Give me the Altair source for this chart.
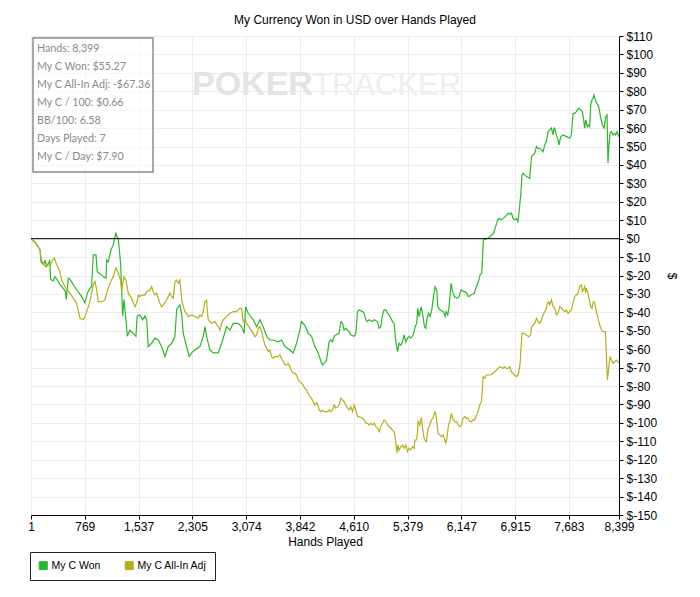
import altair as alt
import pandas as pd

TITLE = "My Currency Won in USD over Hands Played"
SERIES = ["My C Won", "My C All-In Adj"]
COLORS = ["#2db52d", "#b5ae1f"]
X_TICKS = [1, 769, 1537, 2305, 3074, 3842, 4610, 5379, 6147, 6915, 7683, 8399]
Y_TICKS = list(range(-150, 111, 10))
STATS = ["Hands: 8,399", "My C Won: $55.27", "My C All-In Adj: -$67.36",
         "My C / 100: $0.66", "BB/100: 6.58", "Days Played: 7", "My C / Day: $7.90"]

won_hands = [
    1, 29, 72, 129, 144, 177, 205, 225, 268, 282,
    315, 344, 386, 415, 462, 491, 505, 533, 558, 605,
    658, 725, 772, 805, 843, 867, 890, 929, 947, 986,
    1033, 1072, 1082, 1104, 1143, 1176, 1214, 1229, 1247, 1281,
    1310, 1329, 1357, 1376, 1414, 1461, 1500, 1518, 1557, 1595,
    1628, 1653, 1675, 1724, 1771, 1818, 1867, 1914, 1961, 2009,
    2057, 2081, 2104, 2128, 2152, 2175, 2224, 2261, 2295, 2342,
    2413, 2461, 2485, 2509, 2556, 2603, 2675, 2723, 2795, 2842,
    2889, 2960, 3009, 3046, 3066, 3103, 3175, 3223, 3270, 3317,
    3366, 3413, 3460, 3531, 3580, 3627, 3698, 3745, 3794, 3841,
    3865, 3912, 3960, 4008, 4055, 4102, 4151, 4169, 4222, 4259,
    4283, 4308, 4331, 4355, 4402, 4426, 4450, 4473, 4497, 4545,
    4569, 4616, 4640, 4665, 4687, 4736, 4759, 4783, 4807, 4830,
    4879, 4902, 4950, 4973, 4997, 5021, 5044, 5069, 5093, 5116,
    5164, 5187, 5211, 5236, 5258, 5283, 5307, 5330, 5354, 5378,
    5401, 5425, 5449, 5473, 5487, 5511, 5525, 5544, 5573, 5593,
    5621, 5640, 5654, 5678, 5701, 5725, 5749, 5772, 5796, 5811,
    5844, 5892, 5915, 5929, 5954, 5972, 6001, 6021, 6049, 6082,
    6115, 6143, 6178, 6201, 6225, 6249, 6286, 6335, 6353, 6392,
    6415, 6439, 6463, 6486, 6525, 6557, 6582, 6606, 6629, 6653,
    6667, 6686, 6715, 6749, 6772, 6796, 6820, 6843, 6863, 6886,
    6910, 6934, 6957, 6981, 6996, 7014, 7029, 7053, 7077, 7124,
    7149, 7172, 7196, 7220, 7243, 7267, 7291, 7315, 7338, 7362,
    7386, 7410, 7434, 7457, 7471, 7481, 7505, 7528, 7542, 7567,
    7600, 7648, 7695, 7719, 7742, 7766, 7790, 7823, 7852, 7876,
    7890, 7909, 7923, 7948, 7966, 7981, 7995, 8013, 8028, 8042,
    8062, 8081, 8099, 8114, 8138, 8162, 8186, 8210, 8228, 8242,
    8252, 8271, 8290, 8314, 8338, 8352, 8371, 8399,
]
won_usd = [
    0, -1, -2.5, -6, -12.5, -14, -12, -15, -12, -22,
    -23, -20.6, -23, -25, -27, -28.5, -33, -21.5, -22, -25,
    -28, -31.5, -35, -29.6, -27, -26, -8.8, -8.8, -18, -19,
    -20.6, -21.5, -11.6, -12.5, -6.1, -3.4, 3.3, 1, 0, -13.4,
    -42, -33, -44, -53, -49.6, -51.4, -53, -42, -41.4, -44,
    -42, -44, -58.6, -56.8, -54, -55, -58.6, -64, -58.6, -56.8,
    -53, -38.7, -37, -36, -40.5, -51.4, -58.6, -64, -62, -60.4,
    -58.6, -53, -47.8, -53, -60.4, -62, -62, -56.8, -47.8, -49.6,
    -46, -46, -47.8, -51.4, -37, -40.5, -44, -47.8, -44, -47.8,
    -53, -55, -55, -56, -55, -58.6, -60.4, -62, -56.8, -49.6,
    -45, -47, -51.4, -53, -58.6, -62, -67.6, -68.6, -66, -56,
    -55, -56, -53, -52.3, -51.4, -45, -46, -49.6, -48.7, -50.5,
    -52.3, -53, -51.5, -39.6, -38.7, -39.6, -40.5, -44, -45, -44,
    -45, -44, -45, -48.7, -47.8, -41.4, -38.7, -38.7, -40.5, -41.4,
    -45, -46, -56, -61.3, -56.8, -57.7, -56, -52.3, -56, -54,
    -53, -54, -53, -50.5, -47.8, -46, -37.8, -42.3, -37, -40.5,
    -47.8, -48.7, -44, -40.5, -42.3, -38.7, -31.5, -26, -27.8, -37,
    -38.7, -39.6, -42.3, -39.6, -41.4, -37, -24.2, -28.8, -31.5, -32.4,
    -31.5, -27.8, -28.8, -28.8, -29.6, -31.5, -30.6, -29.6, -26.9, -23.3,
    -19.7, -18.8, -0.7, -0.3, 0.2, 1.1, 2, 2.9, 5.6, 8.4,
    10.2, 11, 10.2, 11, 12, 12.9, 13.8, 13.4, 13.8, 11,
    10.2, 11, 9.2, 18.3, 23.7, 34.6, 35.5, 34.6, 33.7, 32.8,
    44.5, 45.4, 46.4, 50, 49, 49, 48.2, 47.2, 50.9, 52.7,
    58.1, 59, 60, 56.3, 60, 60, 56.3, 53.6, 50.9, 55.4,
    56.3, 55.4, 54.5, 56.3, 68, 68, 69, 70.8, 69.9, 69,
    65.4, 60, 64.4, 60.8, 61.7, 60.8, 72.6, 75.3, 76.2, 78,
    75.3, 73.5, 72.6, 70.8, 65.4, 61.7, 60, 66.2, 67.2, 40.9,
    49, 57.2, 58.1, 56.3, 57.2, 56.3, 58.1, 55.27,
]

adj_hands = [
    1, 29, 72, 129, 148, 177, 205, 225, 272, 311,
    334, 368, 415, 439, 472, 511, 558, 605, 653, 700,
    748, 772, 796, 843, 890, 914, 939, 961, 1010, 1057,
    1082, 1129, 1176, 1214, 1247, 1281, 1295, 1329, 1357, 1390,
    1438, 1486, 1510, 1534, 1557, 1581, 1628, 1653, 1700, 1724,
    1747, 1771, 1796, 1818, 1842, 1867, 1889, 1938, 1985, 2009,
    2033, 2057, 2081, 2104, 2128, 2152, 2175, 2200, 2224, 2246,
    2295, 2342, 2390, 2413, 2437, 2461, 2485, 2509, 2518, 2532,
    2556, 2581, 2628, 2675, 2699, 2723, 2747, 2771, 2795, 2818,
    2842, 2889, 2937, 2985, 3009, 3032, 3056, 3080, 3128, 3175,
    3199, 3223, 3246, 3270, 3294, 3317, 3341, 3366, 3389, 3413,
    3437, 3460, 3484, 3531, 3555, 3580, 3603, 3627, 3651, 3674,
    3698, 3722, 3745, 3769, 3794, 3817, 3841, 3888, 3912, 3936,
    3960, 3984, 4008, 4031, 4055, 4080, 4102, 4117, 4141, 4166,
    4189, 4237, 4259, 4283, 4308, 4331, 4355, 4380, 4402, 4426,
    4450, 4473, 4497, 4522, 4545, 4569, 4593, 4616, 4640, 4665,
    4687, 4736, 4759, 4783, 4807, 4830, 4854, 4879, 4902, 4926,
    4950, 4973, 4997, 5021, 5044, 5069, 5093, 5116, 5140, 5164,
    5187, 5201, 5221, 5230, 5240, 5258, 5283, 5307, 5330, 5354,
    5378, 5401, 5425, 5449, 5473, 5483, 5507, 5522, 5530, 5554,
    5564, 5578, 5593, 5601, 5611, 5625, 5649, 5672, 5696, 5720,
    5743, 5768, 5782, 5801, 5815, 5839, 5863, 5886, 5911, 5925,
    5944, 5964, 5982, 6006, 6030, 6054, 6078, 6101, 6125, 6149,
    6172, 6196, 6220, 6243, 6267, 6291, 6315, 6339, 6363, 6386,
    6410, 6434, 6449, 6458, 6482, 6506, 6553, 6601, 6649, 6672,
    6696, 6743, 6767, 6791, 6815, 6839, 6863, 6886, 6910, 6934,
    6957, 6981, 6991, 6996, 7014, 7043, 7077, 7110, 7138, 7149,
    7172, 7196, 7220, 7243, 7267, 7291, 7315, 7338, 7362, 7377,
    7395, 7410, 7434, 7457, 7481, 7505, 7528, 7552, 7576, 7600,
    7624, 7648, 7671, 7695, 7719, 7742, 7766, 7790, 7814, 7838,
    7862, 7876, 7890, 7909, 7923, 7933, 7956, 7981, 7995, 8013,
    8033, 8052, 8076, 8099, 8123, 8148, 8171, 8205, 8219, 8234,
    8252, 8271, 8290, 8314, 8338, 8362, 8385, 8399,
]
adj_usd = [
    0, -1, -2.5, -6, -11.4, -13.5, -15, -14, -14.5, -11.5,
    -10.6, -14, -18, -22.5, -25, -27.7, -29.6, -32.4, -35, -43.2,
    -44, -42.3, -39.6, -34.2, -25, -23.3, -27.8, -34.2, -34.2, -33.3,
    -29.6, -24.2, -20.6, -16, -18.5, -22.5, -28.8, -20.6, -22.5, -29.6,
    -32.4, -37, -35, -30.6, -31.5, -30.6, -30.6, -28.8, -28, -26,
    -28.8, -30.6, -29.6, -32.4, -35, -37, -36, -33.3, -29.6, -31.5,
    -32.4, -23.3, -22.5, -24.2, -22.5, -33, -36.8, -39.6, -40.5, -42.3,
    -41.4, -42.3, -43.2, -41.4, -42.3, -39.6, -34.2, -33.3, -38.7, -44,
    -45, -45.9, -45, -47.8, -49.6, -46, -44, -43.2, -42.3, -41.4,
    -40.5, -39.6, -39.6, -37.8, -37.8, -45, -44, -45.9, -48.6, -51.4,
    -53.2, -52.3, -48.7, -47.8, -50.5, -54.1, -57.7, -59.5, -61.3, -60.4,
    -64, -65, -64, -64, -63, -65, -66.7, -68.5, -68.5, -67.6,
    -69.5, -72, -73, -73, -74, -76.7, -77.6, -79.5, -81.2, -82.1,
    -84, -85.8, -86.7, -88.5, -90.3, -89, -90.5, -93, -93.9, -93,
    -93.9, -93.9, -93, -93.9, -93, -90.3, -92, -91.2, -90.3, -86.6,
    -87.6, -88.5, -90.3, -92, -93, -91.2, -93.9, -90.3, -93, -96.6,
    -96.6, -97.5, -98.4, -100.2, -100.2, -101.1, -100.2, -101.1, -100.2, -102,
    -102.9, -104.8, -102, -100.2, -98.4, -99.3, -101.1, -102, -102.9, -103.9,
    -104.8, -107.5, -113.8, -116.5, -112, -114.7, -112.9, -112, -113.8, -112,
    -115.6, -113.8, -114.7, -112.9, -113.8, -109.3, -109.3, -104.8, -99.3, -101.1,
    -98.4, -97.5, -103, -104.8, -107.5, -109.3, -110.2, -103, -101.1, -98.4,
    -97.5, -94, -94.8, -101.1, -105.6, -106.6, -107.5, -106.6, -109.3, -111,
    -107.5, -101.1, -99.3, -94.8, -98.4, -99.3, -99.3, -101.1, -102, -101.1,
    -97.5, -96.6, -97.5, -97.5, -99.3, -99.3, -98.4, -98.4, -95.7, -94,
    -90.3, -88.5, -81.2, -74.9, -75.8, -74, -74, -73.1, -71.3, -70.4,
    -69.5, -70.4, -69.5, -70.4, -70.4, -69.5, -72.2, -73.1, -74, -74.9,
    -74, -69.5, -65.9, -61.3, -51.4, -51.4, -52.3, -53.2, -52.3, -47.8,
    -46.9, -46, -43.2, -45, -46, -44.1, -41.4, -39.6, -37.8, -35,
    -34.2, -36, -33.3, -36.9, -37.8, -41.4, -40.5, -36.9, -37.8, -38.7,
    -39.6, -38.7, -40.5, -39.6, -38.7, -35, -31.5, -30.6, -29.6, -26,
    -25.1, -28.8, -27.8, -26, -29.6, -26.9, -29.6, -34.2, -36.9, -37.8,
    -34.2, -35, -39.6, -43.2, -46.9, -49.6, -50.5, -50.5, -63.1, -76.7,
    -70.4, -64, -65.9, -67.6, -66.8, -65.9, -66.8, -67.36,
]

assert len(won_hands) == len(won_usd), (len(won_hands), len(won_usd))
assert len(adj_hands) == len(adj_usd), (len(adj_hands), len(adj_usd))

FONT = "Liberation Sans"

df = pd.concat([
    pd.DataFrame({"hands": won_hands, "usd": won_usd, "series": SERIES[0], "order": range(len(won_hands))}),
    pd.DataFrame({"hands": adj_hands, "usd": adj_usd, "series": SERIES[1], "order": range(len(adj_hands))}),
])

x_scale = alt.Scale(domain=[1, 8399], nice=False, zero=False)
y_scale = alt.Scale(domain=[-150, 110], nice=False, zero=False)
series_scale = alt.Scale(domain=SERIES, range=COLORS)

legend = alt.Legend(
    orient="none", legendX=-1, legendY=516, direction="horizontal", title=None,
    symbolType="square", symbolSize=64, symbolStrokeWidth=1, symbolStrokeColor="#222",
    symbolOpacity=1, labelFontSize=10.5, labelFont=FONT, labelColor="black",
    padding=8, strokeColor="#222", fillColor="white", columnPadding=22, labelOffset=3,
)

x_axis = alt.Axis(
    values=X_TICKS, format=",d", title="Hands Played", grid=True, tickCount=40,
    gridColor="#ececec", tickSize=4, labelPadding=2, titlePadding=4,
    domainColor="black", tickColor="black", labelColor="black",
    labelFontSize=12, titleFontSize=12, titleFontWeight="normal",
    labelFont=FONT, titleFont=FONT, labelFlush=False, labelOverlap=False)
y_axis = alt.Axis(
    orient="right", values=Y_TICKS, labelExpr="'$' + datum.value", tickCount=40,
    title="$", grid=True, gridColor="#ececec", tickSize=4,
    labelPadding=3, titlePadding=8, titleAngle=90,
    domainColor="black", tickColor="black", labelColor="black",
    labelFontSize=12, titleFontSize=12, titleFontWeight="normal",
    labelFont=FONT, titleFont=FONT, labelFlush=False, labelOverlap=False)

# invisible points (outside the clipped view) that carry the legend with filled squares
legend_layer = alt.Chart(pd.DataFrame({"series": SERIES, "hands": [-5000, -5000], "usd": [0, 0]})).mark_square(
    filled=True, opacity=1, size=64, clip=True, stroke="#222", strokeWidth=1).encode(
    x=alt.X("hands:Q", scale=x_scale, axis=x_axis),
    y=alt.Y("usd:Q", scale=y_scale, axis=y_axis),
    color=alt.Color("series:N", scale=series_scale, legend=legend),
)

lines = alt.Chart(df).mark_line(strokeWidth=1.2, clip=True).encode(
    x=alt.X("hands:Q", scale=x_scale, axis=x_axis),
    y=alt.Y("usd:Q", scale=y_scale, axis=y_axis),
    color=alt.Color("series:N", scale=series_scale, legend=legend),
    order="order:Q",
    detail="series:N",
)

zero = alt.Chart(pd.DataFrame({"usd": [0]})).mark_rule(color="black", strokeWidth=1).encode(
    y=alt.Y("usd:Q", scale=y_scale, axis=y_axis))

one = pd.DataFrame({"k": [0]})

watermark1 = alt.Chart(one).mark_text(
    text="POKER", font=FONT, fontSize=34, fontWeight="bold", color="#e4e4e4",
    align="left", baseline="alphabetic").encode(x=alt.value(161), y=alt.value(59))
watermark2 = alt.Chart(one).mark_text(
    text="TRACKER", font=FONT, fontSize=31, color="#eeeeee",
    align="left", baseline="alphabetic").encode(x=alt.value(282), y=alt.value(59))

stats_box = alt.Chart(one).mark_rect(fill="white", fillOpacity=0.5, stroke="#8c8c8c", strokeWidth=1.5).encode(
    x=alt.value(2), x2=alt.value(122), y=alt.value(2), y2=alt.value(136))

stats_text = alt.Chart(one).mark_text(
    text="\n".join(STATS), lineBreak="\n", lineHeight=18, font="Lato", fontSize=10.7,
    color="#8a8a8a", align="left", baseline="top").encode(x=alt.value(6), y=alt.value(8))

title = alt.Chart(one).mark_text(
    text=TITLE, font=FONT, fontSize=12, color="black", align="center",
    baseline="middle").encode(x=alt.value(324), y=alt.value(-16))

chart = alt.layer(
    watermark1, watermark2, legend_layer, lines, zero, stats_box, stats_text, title
).properties(
    width=588, height=479, autosize="none",
    padding={"left": 23, "top": 28, "right": 73, "bottom": 74},
).configure_view(stroke="#333", strokeWidth=1).configure(font=FONT)

chart.save("out.html", embed_options={"renderer": "svg", "actions": False})
